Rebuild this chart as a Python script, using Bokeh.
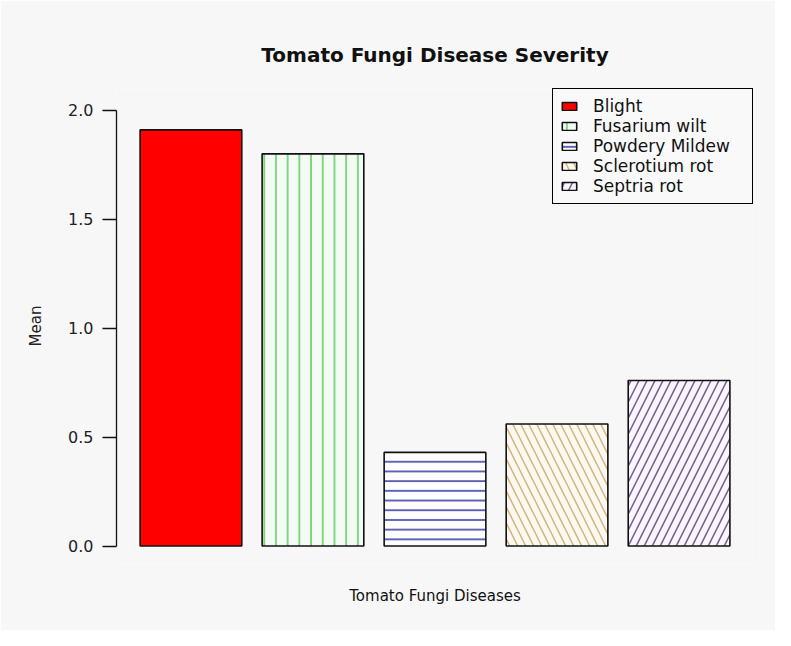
from bokeh.plotting import figure
from bokeh.models import ColumnDataSource, FixedTicker, NumeralTickFormatter, Legend, LegendItem
from bokeh.embed import file_html
from bokeh.resources import INLINE

categories = ["Blight", "Fusarium wilt", "Powdery Mildew", "Sclerotium rot", "Septria rot"]
means = [1.91, 1.80, 0.43, 0.56, 0.76]
y_ticks = [0.0, 0.5, 1.0, 1.5, 2.0]

fill_colors = ["#ff0000", "#f4fbf4", "#fdfdff", "#fdf9f0", "#f9f5fb"]
hatch_patterns = [" ", "|", "-", "\\", "/"]
hatch_colors = ["#ff0000", "#5fc85f", "#34349e", "#d4b483", "#6e5e90"]
hatch_scales = [12, 11.7, 9.7, 16, 16]

# R barplot layout: width 1, space 0.2
xs = [0.2 + 1.2 * i + 0.5 for i in range(len(categories))]

src = ColumnDataSource(dict(x=xs, top=means, category=categories,
                            fill=fill_colors, hp=hatch_patterns,
                            hc=hatch_colors, hs=hatch_scales))

FONT = "DejaVu Sans"
BG = "#f7f7f7"

p = figure(width=775, height=630, output_backend="svg", toolbar_location=None,
           x_range=(-0.032, 6.232), y_range=(-0.08, 2.10),
           min_border_left=116, min_border_right=22,
           min_border_top=88, min_border_bottom=67,
           title="Tomato Fungi Disease Severity")

p.background_fill_color = BG
p.border_fill_color = BG
p.outline_line_color = None
p.grid.visible = False

p.title.align = "center"
p.title.text_font = FONT
p.title.text_font_size = "20px"
p.title.text_font_style = "bold"
p.title.text_color = "#111111"
p.title.standoff = 43

r = p.vbar(x="x", top="top", bottom=0, width=1.0, source=src,
           fill_color="fill", line_color="#111111", line_width=1.6,
           hatch_pattern="hp", hatch_color="hc", hatch_scale="hs",
           hatch_weight=1.5)

items = [LegendItem(label=c, renderers=[r], index=i) for i, c in enumerate(categories)]
legend = Legend(items=items, location="top_right", margin=0, padding=7,
                spacing=0, label_height=19, glyph_width=18, glyph_height=10,
                label_standoff=15, label_width=152,
                label_text_font=FONT, label_text_font_size="17px",
                label_text_color="#111111",
                border_line_color="#000000", border_line_width=1.5,
                border_line_alpha=1.0,
                background_fill_color="#f9f9f9", background_fill_alpha=1.0)
p.add_layout(legend, "center")

# y axis
ya = p.yaxis[0]
ya.ticker = FixedTicker(ticks=y_ticks)
ya.formatter = NumeralTickFormatter(format="0.0")
ya.bounds = (0, 2)
ya.minor_tick_line_color = None
ya.major_tick_in = 0
ya.major_tick_out = 14
ya.major_tick_line_width = 1.3
ya.axis_line_width = 1.3
ya.axis_line_color = "#111111"
ya.major_tick_line_color = "#111111"
ya.major_label_standoff = 9
ya.major_label_text_font = FONT
ya.major_label_text_font_size = "16px"
ya.major_label_text_color = "#222222"
ya.axis_label = "Mean"
ya.axis_label_text_font = FONT
ya.axis_label_text_font_size = "15px"
ya.axis_label_text_font_style = "normal"
ya.axis_label_text_color = "#222222"
ya.axis_label_standoff = 20

# x axis: only the label
xa = p.xaxis[0]
xa.ticker = FixedTicker(ticks=[])
xa.axis_line_color = None
xa.major_tick_line_color = None
xa.minor_tick_line_color = None
xa.major_tick_out = 0
xa.major_tick_in = 0
xa.major_label_standoff = 0
xa.axis_label = "Tomato Fungi Diseases"
xa.axis_label_text_font = FONT
xa.axis_label_text_font_size = "15px"
xa.axis_label_text_font_style = "normal"
xa.axis_label_text_color = "#111111"
xa.axis_label_standoff = 23

open("out.html", "w").write(file_html(p, INLINE))
